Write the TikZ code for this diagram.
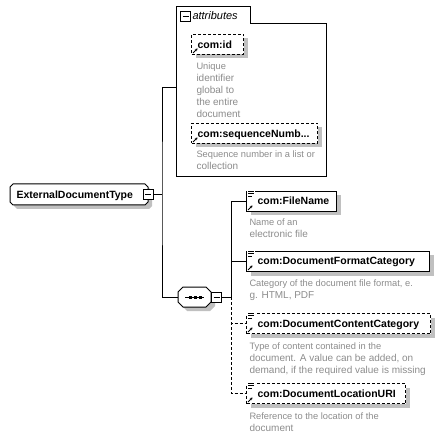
\documentclass[tikz,border=0pt]{standalone}
\usepackage{fontspec}
\setmainfont{Liberation Sans}
\usetikzlibrary{shadows,arrows.meta,calc}
\definecolor{desccol}{RGB}{140,140,140}
\definecolor{shadcol}{RGB}{192,192,192}
\newcommand\nmfont{\fontsize{10.5}{12}\selectfont\bfseries}
\newcommand\dsfont{\fontsize{9.3}{11.8}\selectfont}
\newcommand\elicons[1]{%
  \fill[white] ($(#1.north west)+(1,-1)$) rectangle ($(#1.north west)+(9,6)$);
  \draw[line width=.8pt] ($(#1.north west)+(2,0)$) -- ++(6,0);
  \draw[line width=.8pt] ($(#1.north west)+(2,2.5)$) -- ++(6,0);
  \draw[line width=.8pt] ($(#1.north west)+(2,5)$) -- ++(4,0);
  \draw[line width=.8pt,-{Stealth[length=2.5pt,width=2.8pt]}] ($(#1.south west)+(2,-2)$) -- ++(4.5,-4.5);}
\newcommand\attricon[1]{%
  \draw[line width=.8pt,-{Stealth[length=2.5pt,width=2.8pt]}] ($(#1.south west)+(2,-2)$) -- ++(4.5,-4.5);}
\begin{document}
\begin{tikzpicture}[x=1pt,y=-1pt,line width=1pt,
  shad/.style={drop shadow={shadow xshift=4pt,shadow yshift=-4pt,fill=shadcol,opacity=1}},
  elem/.style={draw,fill=white,shad,minimum height=20pt,minimum width=#1,inner sep=0pt,
    anchor=north west},
  opt/.style={dash pattern=on 3pt off 2pt},
  desc/.style={anchor=north west,inner sep=0pt,align=left,text=desccol},
  minus/.style={draw,fill=white,minimum size=10pt,inner sep=0pt,line width=.8pt,
    path picture={\draw[line width=.8pt] ($(path picture bounding box.west)+(2,0)$) -- ($(path picture bounding box.east)+(-2,0)$);}},
  holder/.style={inner sep=0pt,minimum width=#1},
  lbl/.style={anchor=base west,inner sep=0pt}
]
\useasboundingbox (0,0) rectangle (444,438);

% attributes box
\draw[fill=white] (176,7) -- (250,7) -- (250,24) -- (326,24) -- (326,177) -- (176,177) -- cycle;
\coordinate (attr) at (176,88);
\node[minus] (am) at (185.5,16) {};
\node[anchor=west,inner sep=0pt] (attrlbl) at (192,15.5) {\fontsize{11}{12}\selectfont\itshape attributes};

\node[elem=52pt,opt] (id) at (191,34) {};
\node[lbl] (idl) at (197,48.5) {\nmfont com:id};
\attricon{id}
\node[desc] (iddesc) at (196,62) {\dsfont\baselineskip=11.3pt Unique\\identifier\\global to\\the entire\\document};

\node[elem=126pt,opt] (sn) at (191,123) {};
\node[lbl] (snl) at (197,137.5) {\nmfont com:sequenceNumb...};
\attricon{sn}
\node[desc] (sndesc) at (196,150) {\dsfont Sequence number in a list or\\collection};

% root element
\path[draw,fill=white,shad] (10,187) -- (13,184) -- (145,184) -- (148,187) -- (148,202) -- (145,205) -- (13,205) -- (10,202) -- cycle;
\node[holder=138pt,minimum height=21pt] (ed) at (79,194.5) {};
\node[lbl] (edlbl) at (16,198.5) {\nmfont ExternalDocumentType};
\node[minus] (edm) at (148,194.5) {};

% sequence compositor
\path[draw,fill=white,shad] (178,292) -- (183,287) -- (206,287) -- (211,292) -- (211,302) -- (206,307) -- (183,307) -- (178,302) -- cycle;
\node[holder=33pt,minimum height=20pt] (sq) at (194.5,297) {};
\draw[line width=.8pt] (185,297) -- (204,297);
\foreach \xx in {190,195,200} \fill (\xx-1.5,295.5) rectangle (\xx+1.5,298.5);
\node[minus] (sqm) at (216.5,297) {};

% connectors
\coordinate (j1) at (162,194.5);
\coordinate (j2) at (231,297);
\draw (edm.east) -- (j1);
\draw (attr) -| (j1) |- (sq.west);
\draw (sqm.east) -- (j2);

% child elements
\node[elem=90pt] (fn) at (246,191) {};
\node[lbl] (fnl) at (257,205) {\nmfont com:FileName};
\elicons{fn}
\node[desc] (fndesc) at (249,218) {\dsfont Name of an\\electronic file};

\node[elem=183pt] (fmt) at (246,251) {};
\node[lbl] (fmtl) at (257,265) {\nmfont com:DocumentFormatCategory};
\elicons{fmt}
\node[desc] (fmtdesc) at (249,279) {\dsfont Category of the document file format, e.\\g. HTML, PDF};

\node[elem=184pt,opt] (cnt) at (246,313) {};
\node[lbl] (cntl) at (257,327) {\nmfont com:DocumentContentCategory};
\elicons{cnt}
\node[desc] (cntdesc) at (249,342) {\dsfont Type of content contained in the\\document. A value can be added, on\\demand, if the required value is missing};

\node[elem=159pt,opt] (loc) at (246,383) {};
\node[lbl] (locl) at (257,397) {\nmfont com:DocumentLocationURI};
\elicons{loc}
\node[desc] (locdesc) at (249,412) {\dsfont Reference to the location of the\\document};

\draw (j2) |- (fn.west);
\draw (fmt.west -| j2) -- (fmt.west);
\draw[opt] (j2) |- (cnt.west);
\draw[opt] (j2) |- (loc.west);
\end{tikzpicture}
\end{document}
